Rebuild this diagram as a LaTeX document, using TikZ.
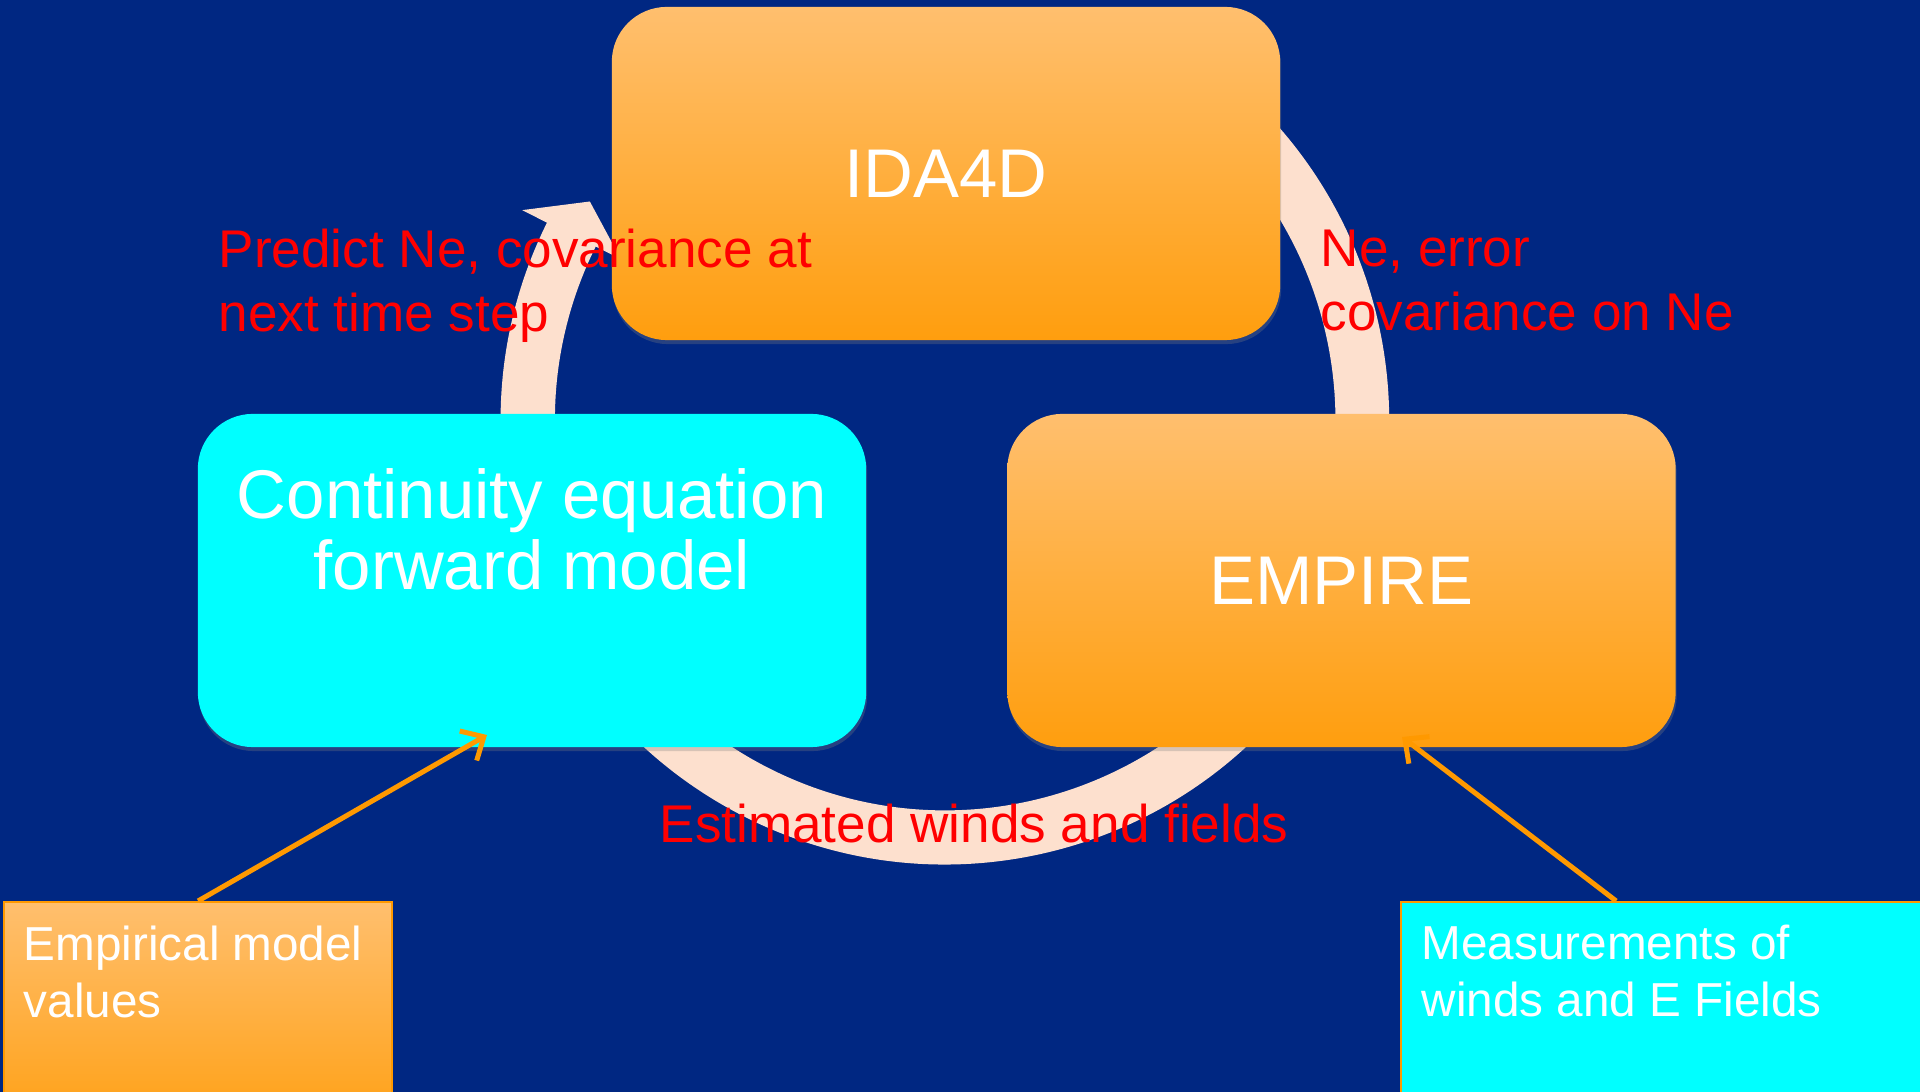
\documentclass[tikz,border=0pt]{standalone}
\usepackage{xcolor}
\usepackage{fontspec}
\setmainfont{Liberation Sans}
\usepackage{tikz}
\usetikzlibrary{shapes,arrows,arrows.meta,shadows}

\definecolor{bgblue}{RGB}{0,39,130}
\definecolor{boxtop}{RGB}{255,191,110}
\definecolor{boxbot}{RGB}{255,158,14}
\definecolor{boxcyan}{RGB}{0,255,255}
\definecolor{peach}{RGB}{253,224,206}
\definecolor{linkorange}{RGB}{255,153,0}

\begin{document}
\begin{tikzpicture}[x=0.01cm,y=-0.01cm,
  stagebox/.style={rectangle,rounded corners=0.55cm,minimum width=6.68cm,minimum height=3.33cm,
    text=white,font=\fontsize{19.6pt}{20.2pt}\selectfont,align=center,
    drop shadow={shadow xshift=0.01cm,shadow yshift=-0.04cm,opacity=0.3}},
  inputbox/.style={rectangle,anchor=north west,minimum height=2.4cm,draw=linkorange,line width=0.02cm},
  inputtext/.style={anchor=north west,inner sep=0pt,text=white,align=left,font=\fontsize{13.55pt}{16.2pt}\selectfont},
  flowtext/.style={inner sep=0pt,text=red,align=left,font=\fontsize{15.1pt}{18.2pt}\selectfont},
  pointer/.style={draw=linkorange,line width=0.05cm,-{Straight Barb[length=0.18cm,width=0.34cm]}}]

\useasboundingbox (0,0) rectangle (1920,1092);
\clip (0,0) rectangle (1920,1092);
\fill[bgblue] (0,0) rectangle (1920,1092);

% cycle arrow
\begin{scope}[shift={(945,420)},y=0.01cm]
  \fill[peach] (60:444) arc[start angle=60,end angle=-206.4,radius=4.44cm]
    -- (153.6:472) -- (148.4:417) -- (153.6:362) -- (153.6:390)
    arc[start angle=-206.4,end angle=60,radius=3.9cm] -- cycle;
\end{scope}

% models
\node [stagebox,top color=boxtop,bottom color=boxbot] (ida) at (946,173.5) {IDA4D};
\node [stagebox,fill=boxcyan] (cont) at (532,580.5) {};
\node [anchor=north,inner sep=0pt,text=white,align=center,font=\fontsize{19.6pt}{20.2pt}\selectfont] (conttext)
  at ([yshift=-0.55cm]cont.north) {Continuity equation\\forward model};
\node [stagebox,top color=boxtop,bottom color=boxbot] (empire) at (1341.5,580.5) {EMPIRE};

% inputs
\node [inputbox,minimum width=3.88cm,top color=boxtop,bottom color=boxbot] (emp) at (3,901) {};
\node [inputtext] (emptext) at ([xshift=0.2cm,yshift=-0.24cm]emp.north west) {Empirical model\\values};
\node [inputbox,minimum width=5.6cm,fill=boxcyan] (meas) at (1400,901) {};
\node [inputtext] (meastext) at ([xshift=0.21cm,yshift=-0.23cm]meas.north west) {Measurements of\\winds and E Fields};

\coordinate (contin) at (487,735);
\coordinate (empirein) at (1402,737);
\draw [pointer] (emp.north) -- (contin);
\draw [pointer] ([xshift=2.16cm]meas.north west) -- (empirein);

% flow labels
\node [flowtext,anchor=north west] (predict) at (218,228.5) {Predict Ne, covariance at\\next time step};
\node [flowtext,anchor=north west] (neerror) at (1320,229) {Ne, error\\covariance on Ne};
\node [flowtext,anchor=base west] (winds) at (659,843) {Estimated winds and fields};

\end{tikzpicture}
\end{document}
